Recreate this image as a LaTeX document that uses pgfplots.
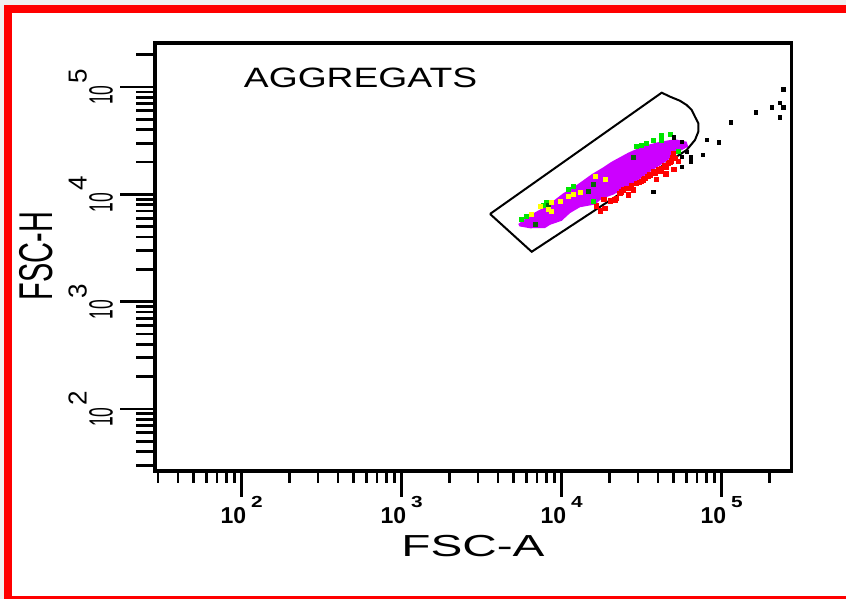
\documentclass[border=0pt]{standalone}
\usepackage{pgfplots}
\pgfplotsset{compat=1.18}
\usepackage{fontspec}
\setmainfont{Liberation Sans}
\definecolor{purp}{RGB}{204,0,255}
\definecolor{gbright}{RGB}{0,230,0}
\definecolor{gdark}{RGB}{10,100,10}
\definecolor{ylw}{RGB}{255,255,0}
\newcommand{\xlab}[1]{\fontsize{11.5pt}{11.5pt}\selectfont\bfseries 10\hspace{2.5pt}\raisebox{8pt}{\scalebox{1.3}[1]{\fontsize{8pt}{8pt}\selectfont\bfseries #1}}}
\newcommand{\ylab}[1]{\scalebox{0.52}[1]{\fontsize{16.8pt}{16.8pt}\selectfont 10}\hspace{1pt}\raisebox{13pt}{\fontsize{13pt}{13pt}\selectfont #1}}
\begin{document}
\begin{tikzpicture}
\useasboundingbox (0,0) rectangle (423pt,299.5pt);
\fill[gray!12] (0,0) rectangle (423pt,299.5pt);
\fill[white] (2pt,-5pt) rectangle (430pt,297pt);
\draw[red, line width=4pt] (4pt,-0.5pt) rectangle (426pt,295pt);
% main axis: box, y ticks, data
\begin{axis}[
  at={(77.5pt,64pt)}, anchor=south west,
  scale only axis, width=318.35pt, height=214pt,
  xmode=log, ymode=log,
  xmin=28.72, xmax=273800, ymin=26.44, ymax=257000,
  xtick=\empty,
  ytick={100,1000,10000,100000},
  minor ytick={30,40,50,60,70,80,90,200,300,400,500,600,700,800,900,2000,3000,4000,5000,6000,7000,8000,9000,20000,30000,40000,50000,60000,70000,80000,90000,200000},
  ytick pos=left, tick align=outside,
  major tick length=17.5pt, minor tick length=9.5pt,
  tick style={line width=1.4pt, black},
  axis line style={line width=1.7pt},
  yticklabels={\ylab{2},\ylab{3},\ylab{4},\ylab{5}},
  yticklabel style={rotate=90, anchor=south},
  xlabel={\scalebox{1.57}[1]{\fontsize{15.2pt}{15.2pt}\selectfont FSC-A}},
  xlabel style={at={(axis description cs:0.4994,-0.1752)}, anchor=center},
  ylabel={\scalebox{0.61}[1]{\fontsize{23.7pt}{23.7pt}\selectfont FSC-H}},
  ylabel style={at={(axis description cs:-0.1869,0.5023)}, anchor=center},
]
% purple population
\addplot[fill=purp, draw=none] coordinates {
(5358,5297) (6339,6412) (8054,7780) (10233,10233) (12417,12218) (15399,15382)
(18197,17865) (20535,20137) (26062,24434) (32359,28184) (41115,30903) (51050,32584)
(60395,30903) (61802,27797)
(52360,24446) (45290,20393) (37371,16998) (30832,13921) (25468,11567) (21012,9933)
(17783,9076) (16144,8041) (13002,7580) (11272,6687) (10000,5668) (8453,5197)
(7870,4852) (6339,4827) (5433,5030) (5358,5297)};
% red events
\addplot[only marks, mark=square*, mark size=1.1pt, color=red] coordinates {
(16542,7786) (18650,7405) (17525,6993) (18385,8982) (22060,9177) (23144,10216)
(26090,9858) (25472,11374) (27366,11956) (29420,12661) (31608,13122) (33164,14096)
(35630,15140) (37378,16264) (40180,16855) (39230,13798) (42150,17467) (44220,18365)
(46400,19446) (48680,20445) (49860,24099) (53580,20156) (50340,17098) (44860,15468)
(32370,13600) (28030,10975) (24280,10975) (21540,8855) (49380,22120) (45300,17850)
(34500,14600) (38500,15700) (41500,16400) (47500,19900) (51000,21500) (30500,12900)
(27000,11300) (23600,10500) (20200,8700)};
% green events
\addplot[only marks, mark=square*, mark size=1pt, color=gbright] coordinates {
(5621,5850) (6040,6283) (7676,7955) (8054,8363) (11003,11133) (11822,11787)
(29420,28200) (31610,28810) (33970,29860) (37380,32090) (42150,35710) (47520,36230)
(42150,32090) (53580,24970) (15760,8545)};
% dark green events
\addplot[only marks, mark=square*, mark size=1pt, color=gdark] coordinates {
(6809,5292) (8251,7955) (15760,12485) (28030,22120) (14670,10590)};
% yellow events
\addplot[only marks, mark=square*, mark size=1pt, color=ylw] coordinates {
(6493,6512) (7317,7676) (8251,7248) (8654,8363) (9759,8545) (11003,9649)
(11822,10072) (13013,10363) (16150,14605) (18650,13798) (8654,6895)};
% black outliers
\addplot[only marks, mark=square*, mark size=0.8pt, color=black] coordinates {
(242800,95110) (231400,71450) (205300,64630) (242800,64630) (231400,52170)
(163850,58080) (113800,46860) (95740,30510) (80550,32090) (76050,23250)
(63990,20150) (63990,22120) (56210,18100) (37380,10590) (50340,33960)
(56210,30950) (60400,24970) (56210,22440)};
% gate
\addplot[black, line width=1pt, sharp plot] coordinates {
(3565,6561) (6494,2917) (60395,25882) (68077,32063) (71450,38371) (71450,45920)
(68077,52845) (64938,61094) (60395,67920) (54828,74473) (47534,81283) (42170,88512)
(3565,6561)};
\node at (axis description cs:0.3228,0.9182) {\scalebox{1.33}[1]{\fontsize{14pt}{14pt}\selectfont AGGREGATS}};
\end{axis}
% x ticks axis
\begin{axis}[
  at={(77.5pt,64pt)}, anchor=south west,
  scale only axis, width=318.35pt, height=214pt,
  xmode=log, ymode=log,
  xmin=28.72, xmax=273800, ymin=26.44, ymax=257000,
  axis line style={draw=none},
  ytick=\empty,
  xtick={100,1000,10000,100000},
  minor xtick={30,40,50,60,70,80,90,200,300,400,500,600,700,800,900,2000,3000,4000,5000,6000,7000,8000,9000,20000,30000,40000,50000,60000,70000,80000,90000,200000},
  xtick pos=bottom, tick align=outside,
  major tick length=13pt, minor tick length=6pt,
  tick style={line width=1.4pt, black},
  xticklabels={\xlab{2},\xlab{3},\xlab{4},\xlab{5}},
  xticklabel style={anchor=north},
  xticklabel shift=-4pt,
]
\end{axis}
\end{tikzpicture}
\end{document}
